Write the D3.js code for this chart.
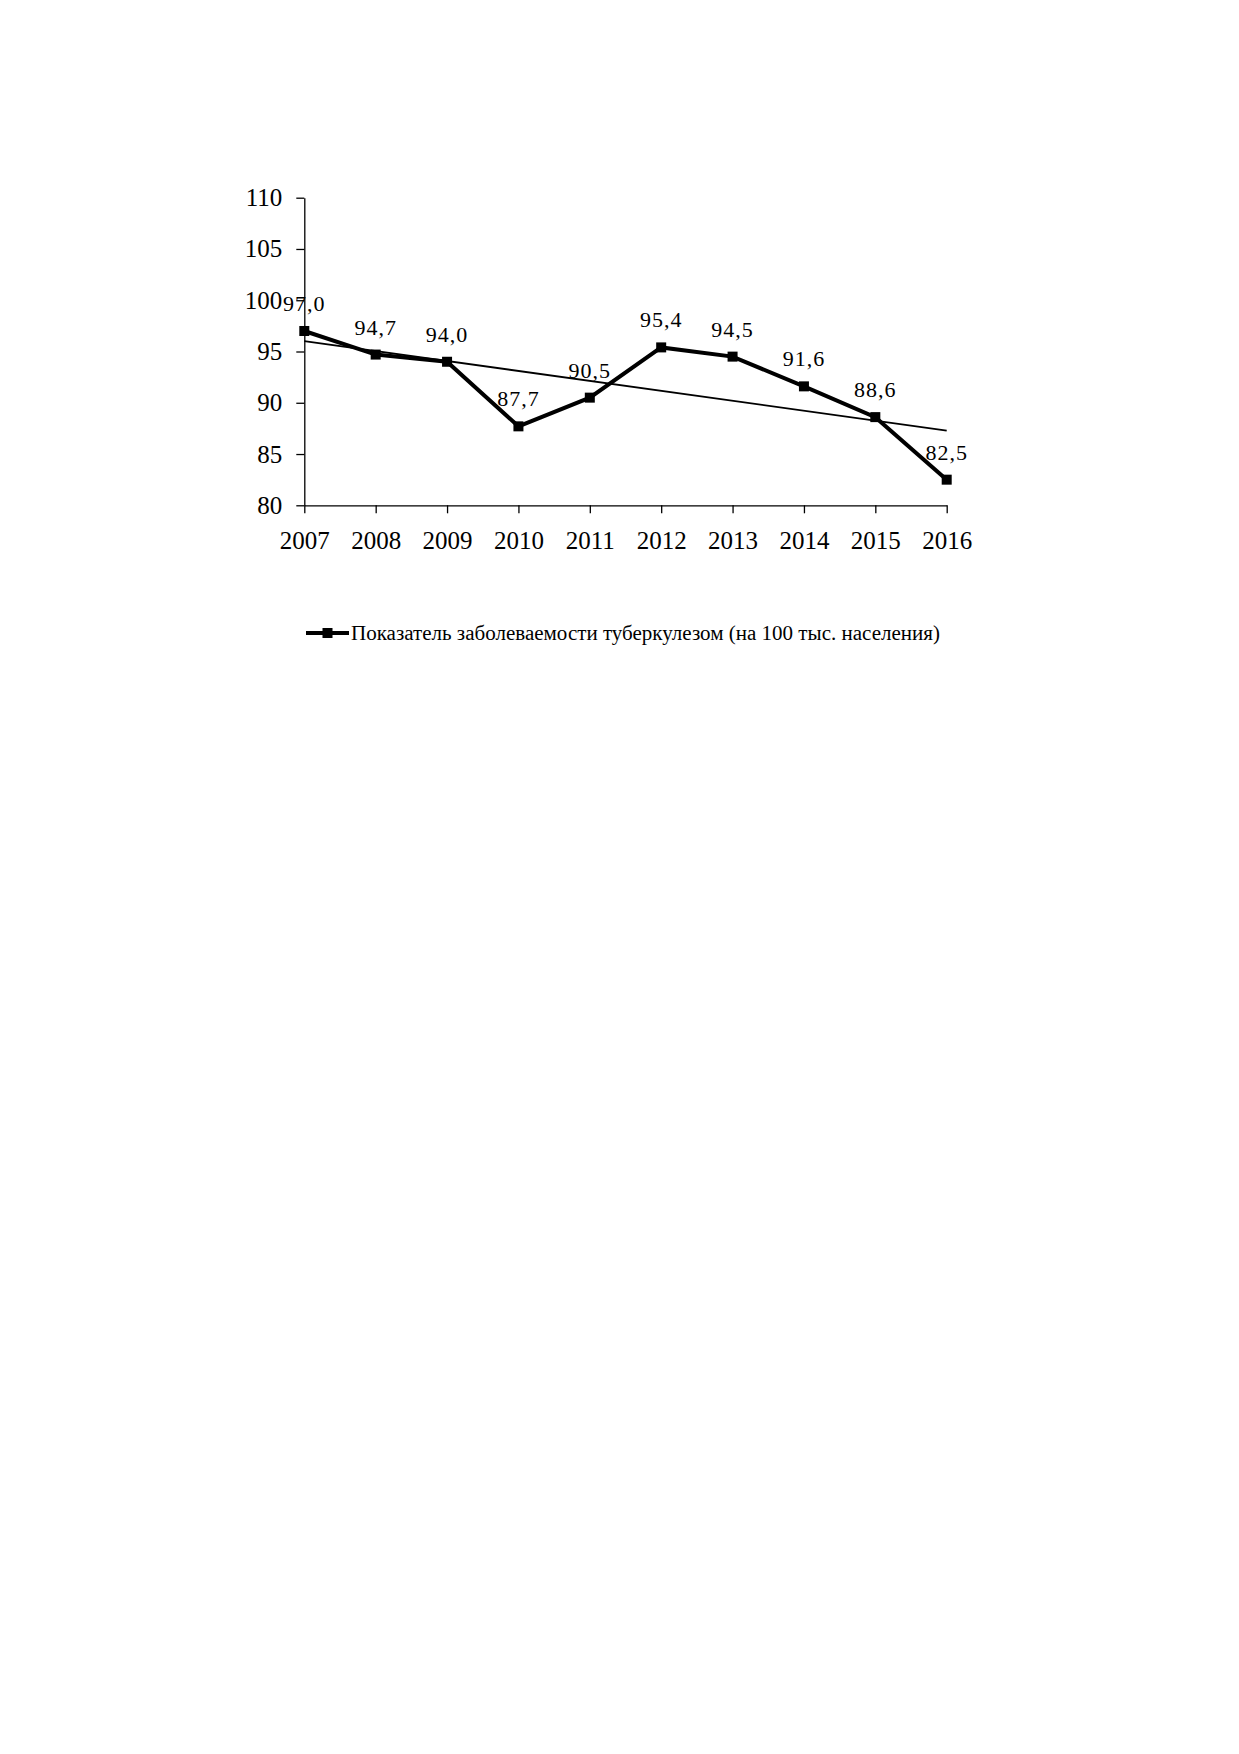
<!DOCTYPE html>
<html>
<head>
<meta charset="utf-8">
<script src="https://cdn.jsdelivr.net/npm/d3@7"></script>
<style>
  body { margin: 0; background: #fff; }
  text { font-family: "Liberation Serif", "Times New Roman", serif; fill: #000; }
</style>
</head>
<body>
<div id="chart"></div>
<script>
// data
const years = ["2007", "2008", "2009", "2010", "2011", "2012", "2013", "2014", "2015", "2016"];
const rates = [97.0, 94.7, 94.0, 87.7, 90.5, 95.4, 94.5, 91.6, 88.6, 82.5];
const yTicks = [80, 85, 90, 95, 100, 105, 110];
const seriesName = "Показатель заболеваемости туберкулезом (на 100 тыс. населения)";

const width = 1239,
  height = 1754;

const svg = d3.select("#chart").append("svg")
  .attr("width", width)
  .attr("height", height)
  .style("display", "block");

const x = d3.scalePoint()
  .domain(years)
  .range([304.3, 946.7]);

const y = d3.scaleLinear()
  .domain([80, 110])
  .range([505.3, 197.7]);

// y axis
const yAxis = svg.append("g")
  .attr("transform", `translate(${x.range()[0]},0)`)
  .call(d3.axisLeft(y).tickValues(yTicks).tickSize(8).tickPadding(14).tickSizeOuter(0));
yAxis.select(".domain").attr("stroke", "#000").attr("stroke-width", 1.3);
yAxis.selectAll(".tick line").attr("stroke", "#000").attr("stroke-width", 1.3);
yAxis.selectAll(".tick text")
  .attr("font-size", 25)
  .attr("font-family", "Liberation Serif")
  .attr("fill", "#000");

// x axis
const xAxis = svg.append("g")
  .attr("transform", `translate(0,${y(80)})`)
  .call(d3.axisBottom(x).tickSize(8).tickPadding(18).tickSizeOuter(0));
xAxis.select(".domain").attr("stroke", "#000").attr("stroke-width", 1.3);
xAxis.selectAll(".tick line").attr("stroke", "#000").attr("stroke-width", 1.3);
xAxis.selectAll(".tick text")
  .attr("font-size", 25)
  .attr("font-family", "Liberation Serif")
  .attr("fill", "#000");

// linear trend (least squares)
const idx = d3.range(rates.length);
const mx = d3.mean(idx), my = d3.mean(rates);
const slope = d3.sum(idx, i => (i - mx) * (rates[i] - my)) / d3.sum(idx, i => (i - mx) ** 2);
const icpt = my - slope * mx;
const trend = [0, rates.length - 1].map(i => [years[i], icpt + slope * i]);

svg.append("path")
  .datum(trend)
  .attr("fill", "none")
  .attr("stroke", "#000")
  .attr("stroke-width", 1.8)
  .attr("d", d3.line().x(d => x(d[0])).y(d => y(d[1])));

// main series
const pts = years.map((yr, i) => ({ year: yr, v: rates[i] }));

svg.append("path")
  .datum(pts)
  .attr("fill", "none")
  .attr("stroke", "#000")
  .attr("stroke-width", 4)
  .attr("stroke-linejoin", "miter")
  .attr("d", d3.line().x(d => x(d.year)).y(d => y(d.v)));

svg.append("g")
  .selectAll("rect")
  .data(pts)
  .join("rect")
  .attr("x", d => x(d.year) - 5)
  .attr("y", d => y(d.v) - 5)
  .attr("width", 10)
  .attr("height", 10)
  .attr("fill", "#000");

svg.append("g")
  .selectAll("text")
  .data(pts)
  .join("text")
  .attr("x", d => x(d.year))
  .attr("y", d => y(d.v) - 20)
  .attr("text-anchor", "middle")
  .attr("font-size", 22)
  .attr("letter-spacing", 1)
  .text(d => d.v.toFixed(1).replace(".", ","));

// legend
const lg = svg.append("g").attr("transform", "translate(306,633)");
lg.append("line")
  .attr("x1", 0).attr("x2", 43)
  .attr("stroke", "#000").attr("stroke-width", 4);
lg.append("rect")
  .attr("x", 16.5).attr("y", -5).attr("width", 10).attr("height", 10)
  .attr("fill", "#000");
lg.append("text")
  .attr("x", 45)
  .attr("y", 7)
  .attr("font-size", 20)
  .attr("textLength", 589)
  .attr("lengthAdjust", "spacingAndGlyphs")
  .text(seriesName);
</script>
</body>
</html>
